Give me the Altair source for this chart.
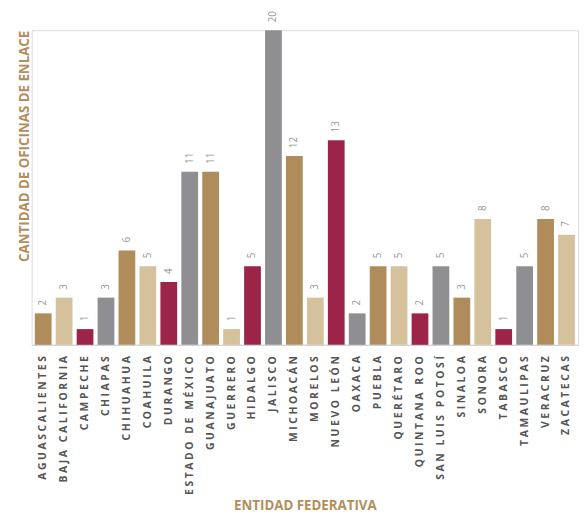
import altair as alt
import pandas as pd

estados = ["AGUASCALIENTES", "BAJA CALIFORNIA", "CAMPECHE", "CHIAPAS", "CHIHUAHUA",
           "COAHUILA", "DURANGO", "ESTADO DE MÉXICO", "GUANAJUATO", "GUERRERO",
           "HIDALGO", "JALISCO", "MICHOACÁN", "MORELOS", "NUEVO LEÓN", "OAXACA",
           "PUEBLA", "QUERÉTARO", "QUINTANA ROO", "SAN LUIS POTOSÍ", "SINALOA",
           "SONORA", "TABASCO", "TAMAULIPAS", "VERACRUZ", "ZACATECAS"]
oficinas = [2, 3, 1, 3, 6, 5, 4, 11, 11, 1, 5, 20, 12, 3, 13, 2, 5, 5, 2, 5, 3, 8, 1, 5, 8, 7]
paleta = ["#B08C5B", "#D5C19C", "#9D2449", "#8F8E93"]

df = pd.DataFrame({
    "estado": estados,
    "oficinas": oficinas,
    "color": [paleta[i % 4] for i in range(len(estados))],
})

# letter-spaced display of the category labels (narrow space between letters)
espaciado = "join(split(datum.label, ''), '\u2005')"

x = alt.X("estado:N", sort=estados, title="ENTIDAD FEDERATIVA",
          scale=alt.Scale(paddingInner=0.2, paddingOuter=0.15),
          axis=alt.Axis(labelAngle=-90, labelAlign="right", labelBaseline="middle",
                        labelPadding=11, ticks=False, domainColor="#cccccc",
                        domainWidth=1, labelColor="#555555", labelFont="Open Sans",
                        labelFontWeight="bold", labelFontSize=10.5, labelLimit=300,
                        labelExpr=espaciado,
                        titleFont="Open Sans", titleFontWeight="bold", titleFontSize=13.5,
                        titleColor="#B38E5D", titleBaseline="alphabetic", titleY=167))
y = alt.Y("oficinas:Q", title="CANTIDAD DE OFICINAS DE ENLACE",
          scale=alt.Scale(domain=[0, 20], nice=False),
          axis=alt.Axis(labels=False, ticks=False, domain=False, grid=False,
                        titleFont="Open Sans", titleFontWeight="bold", titleFontSize=13.5,
                        titleColor="#B38E5D", titleAnchor="end", titlePadding=0))

bars = alt.Chart(df).mark_bar().encode(
    x=x, y=y, color=alt.Color("color:N", scale=None, legend=None))

text = alt.Chart(df).mark_text(angle=270, align="left", baseline="middle", dx=8,
                               font="Open Sans", fontSize=10, color="#999999").encode(
    x=alt.X("estado:N", sort=estados), y="oficinas:Q", text="oficinas:Q")

chart = (bars + text).properties(
    width=554, height=319,
    autosize=alt.AutoSizeParams(type="none"),
    padding={"left": 24, "top": 19, "right": 2, "bottom": 168},
).configure_view(stroke=None).configure(background="white")

chart.save("out.html", embed_options={"renderer": "svg", "actions": False})
